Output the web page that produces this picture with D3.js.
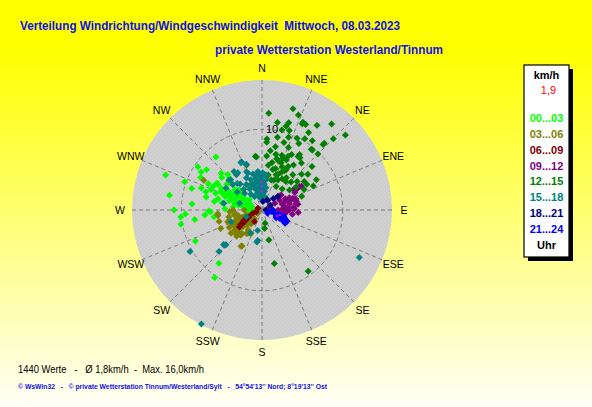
<!DOCTYPE html>
<html>
<head>
<meta charset="utf-8">
<script src="https://cdn.jsdelivr.net/npm/d3@7"></script>
<style>
  html, body { margin: 0; padding: 0; overflow: hidden; }
  svg { display: block; }
</style>
</head>
<body>
<div id="chart"></div>
<script>

// ---- data: [direction in degrees, speed km/h] per time slot ----
var slots = ["00...03", "03...06", "06...09", "09...12", "12...15", "15...18", "18...21", "21...24"];
var slotColors = ["#00ff00", "#808000", "#800000", "#800080", "#008000", "#008080", "#000080", "#0000ff"];

var pts0003 = [[319,8.7],[290,12.7],[290,10.2],[304,9.6],[302,8.9],[306,8.5],[298,8.6],[287,9.1],[279,11.6],[290,8.0],
  [288,7.3],[296,6.7],[301,6.5],[309,6.4],[275,8.7],[283,7.1],[280,6.0],[270,10.9],[267,9.5],[265,10.1],[260,10.2],
  [262,8.4],[269,6.6],[268,6.4],[265,7.1],[262,6.0],[245,9.1],[294,5.6],[290,4.8],[299,4.7],[311,4.8],[307,4.2],
  [299,3.5],[297,2.7],[309,2.0],[284,3.5],[280,5.0],[288,2.1],[263,1.8],[280,1.2],[219,8.5],[215,10.2],[300,6.3],
  [298,5.7],[297,5.0],[293,4.2],[290,3.6],[309,3.3],[304,2.6],[295,1.9],[295,1.5],[270,1.5],[280,2.4],[282,3.0],
  [312,6.8],[316,6.1],[286,4.2],[292,5.2],[302,4.0],[306,5.4],[314,5.6],[300,3.0],[284,2.6],[276,3.6],[290,6.1],
  [296,7.4],[284,5.6],[272,4.6],[304,3.6],[296,4.4],[288,3.0],[278,2.0],[300,2.2],[310,3.8],[292,6.8]];
var pts0306 = [[267,4.0],[270,3.6],[260,3.5],[251,3.2],[241,3.0],[233,2.4],[227,1.8],[222,1.4],[240,3.7],[231,3.6],
  [229,3.1],[215,3.0],[234,4.2],[248,1.7],[270,2.2],[232,0.7],[251,4.5],[255,5.5],[246,5.6],[226,4.4],[211,3.4],
  [263,5.5],[297,8.1],[210,5.2],[224,4.5],[214,3.5],[329,3.6],[265,5.5],[209,5.1],[205,3.2],[237,3.9],[228,4.1],
  [245,2.8],[238,3.4],[250,2.6],[256,3.0],[225,2.6],[218,2.2],[244,4.0],[262,3.3],[236,2.0],[230,2.8],[221,3.8],
  [248,3.6],[258,4.2],[242,4.6],[233,4.8],[220,4.1],[252,2.1],[240,2.2]];
var pts0609 = [[213,1.7],[235,2.9],[238,2.3],[242,1.8],[250,1.2],[254,0.75],[233,3.5],[292,0.55],[240,2.6],[236,3.2]];
var pts0912 = [[60,2.5],[70,3.0],[69,3.4],[69,4.1],[76,4.4],[58,5.5],[59,5.0],[90,2.4],[94,2.8],[90,3.4],[62,1.8],
  [66,1.0],[94,4.5],[90,2.0],[2,3.7],[59,5.7],[79,4.3],[81,4.5],[52,3.0],[92,2.6],[96,3.0],[72,3.7],[86,3.9],
  [64,3.2],[66,3.7],[72,4.4],[74,2.6],[84,3.2],[88,4.0],[98,3.8],[62,4.6],[57,4.7],[78,3.5],[82,2.8]];
var pts1215 = [[4,12.0],[17,13.1],[17,11.3],[16,10.8],[19,10.4],[25,11.8],[27,11.9],[39,13.7],[48,13.9],[43,11.3],
  [31,11.2],[26,9.9],[31,10.3],[4,8.8],[4,8.4],[12,9.2],[18,8.8],[23,8.4],[29,9.4],[40,9.7],[45,9.8],[8,7.4],
  [14,7.1],[20,7.2],[26,7.4],[34,8.3],[36,8.0],[354,6.6],[5,6.7],[12,6.0],[19,6.4],[25,5.9],[31,6.3],[30,5.6],
  [15,5.2],[24,4.8],[37,5.0],[49,8.2],[61,7.7],[65,7.0],[56,6.3],[64,5.8],[51,5.6],[41,5.8],[22,4.0],[71,5.2],
  [25,12.0],[43,11.1],[39,9.7],[48,6.6],[167,1.7],[167,3.8],[167,6.8],[143,9.5],[172,2.3],[22,6.9],[22,6.3],
  [31,5.8],[22,4.7],[17,3.9],[31,3.4],[54,4.2],[56,5.1],[28,7.8],[34,8.0],[40,7.6],[26,6.9],[341,5.9],[353,6.7],
  [20,9.6],[14,10.2],[10,11.0],[33,12.5],[21,12.6],[45,12.5],[36,10.6],[8,5.6],[18,5.4],[28,4.2],[40,4.6],
  [46,5.0],[35,6.8],[12,8.0],[52,7.2],[60,6.4],[10,4.4],[16,6.6],[27,5.2],[33,4.6],[44,3.6]];
var pts1518 = [[351,4.4],[355,3.8],[358,3.1],[2,2.5],[346,2.2],[331,1.9],[342,3.1],[1,4.6],[8,3.8],[11,1.7],
  [340,4.0],[339,4.9],[328,3.7],[314,3.0],[287,2.9],[324,5.4],[324,5.9],[327,5.5],[311,4.8],[312,5.5],[280,4.8],
  [247,2.1],[192,2.6],[188,3.8],[227,6.4],[336,6.4],[341,6.0],[314,5.4],[301,5.2],[240,10.3],[226,7.4],
  [228,6.4],[208,16.0],[116,13.4],[189,4.0],[207,3.2],[337,6.5],[338,5.1],[317,4.5],[249,4.1],[226,6.2],
  [350,3.5],[352,2.8],[5,3.2],[0,2.0],[356,4.2],[345,3.4],[10,2.8],[4,4.1],[348,4.0],[354,4.8],[2,3.4],
  [6,4.4],[358,3.6],[352,2.2],[344,2.6],[355,1.8],[8,2.3],[346,4.6],[338,3.5],[334,4.4],[320,4.2],[318,3.4],
  [306,3.8],[0,3.9],[357,2.6],[349,1.6],[3,1.4],[330,3.0],[325,2.4]];
var pts1821 = [[6,1.05],[30,1.4],[49,2.6],[90,0.5],[28,1.4],[45,2.0],[60,1.2]];
var pts2124 = [[100,1.15],[105,1.6],[108,2.05],[109,2.5],[110,3.0],[116,3.3],[117,2.9],[115,2.4],[115,1.95],
  [120,0.8],[90,1.35],[112,2.7],[118,3.1],[113,2.2],[104,2.2],[111,1.9],[119,2.0],[106,2.8],[114,3.4],[120,3.3]];
var slotPoints = [pts0003, pts0306, pts0609, pts0912, pts1215, pts1518, pts1821, pts2124];

// tiny magenta marks in the centre
var ptsMagenta = [[359,3.5],[359,2.9],[359,2.3],[106,2.3],[112,2.0]];

var compass = ["N","NNE","NE","ENE","E","ESE","SE","SSE","S","SSW","SW","WSW","W","WNW","NW","NNW"];
var speedTicks = [10];
var speedMax = 16.1;

var title1 = "Verteilung Windrichtung/Windgeschwindigkeit  Mittwoch, 08.03.2023";
var title2 = "private Wetterstation Westerland/Tinnum";
var stats = "1440 Werte   -   \u00d8 1,8km/h  -  Max. 16,0km/h";
var footer = "\u00a9 WsWin32   -   \u00a9 private Wetterstation Tinnum/Westerland/Sylt   -   54\u00b054'13'' Nord; 8\u00b019'13'' Ost";
var legendHead = "km/h", legendValue = "1,9", legendFoot = "Uhr";

// ---- layout ----
var W = 592, H = 407;
var cx = 262, cy = 210, R = 130;
var font = "Liberation Sans, Arial, sans-serif";

var svg = d3.select("#chart").append("svg")
  .attr("width", W).attr("height", H);

var defs = svg.append("defs");
var grad = defs.append("linearGradient").attr("id", "bg")
  .attr("x1", 0).attr("y1", 0).attr("x2", 0).attr("y2", 1);
grad.append("stop").attr("offset", "0%").attr("stop-color", "#ffff00");
grad.append("stop").attr("offset", "12%").attr("stop-color", "#ffff00");
grad.append("stop").attr("offset", "100%").attr("stop-color", "#fffff6");

// dotted grey texture of the disc
var pat = defs.append("pattern").attr("id", "dots")
  .attr("width", 4).attr("height", 4).attr("patternUnits", "userSpaceOnUse");
pat.append("rect").attr("width", 4).attr("height", 4).attr("fill", "#cdcdcd");
pat.append("rect").attr("x", 0).attr("y", 0).attr("width", 1).attr("height", 1).attr("fill", "#d9d9d9");
pat.append("rect").attr("x", 2).attr("y", 2).attr("width", 1).attr("height", 1).attr("fill", "#d9d9d9");

svg.append("rect").attr("width", W).attr("height", H).attr("fill", "url(#bg)");

var r = d3.scaleLinear().domain([0, speedMax]).range([0, R]);
var ang = d3.scaleLinear().domain([0, 360]).range([0, 2 * Math.PI]);
function px(d) { return cx + r(d[1]) * Math.sin(ang(d[0])); }
function py(d) { return cy - r(d[1]) * Math.cos(ang(d[0])); }

var g = svg.append("g");

g.append("circle").attr("cx", cx).attr("cy", cy).attr("r", R).attr("fill", "url(#dots)");

// spokes
g.selectAll(".spoke").data(compass).enter().append("line")
  .attr("class", "spoke")
  .attr("x1", cx).attr("y1", cy)
  .attr("x2", function(d, i) { return cx + R * Math.sin(ang(i * 22.5)); })
  .attr("y2", function(d, i) { return cy - R * Math.cos(ang(i * 22.5)); })
  .attr("stroke", "#7a7a7a").attr("stroke-width", 1)
  .style("stroke-dasharray", "4,3");

// speed ring
g.selectAll(".ring").data(speedTicks).enter().append("circle")
  .attr("cx", cx).attr("cy", cy).attr("r", function(d) { return r(d); })
  .attr("fill", "none").attr("stroke", "#7a7a7a").attr("stroke-width", 1)
  .style("stroke-dasharray", "4,3");

g.selectAll(".ringlabel").data(speedTicks).enter().append("text")
  .attr("x", cx + 4).attr("y", function(d) { return cy - r(d) + 4; })
  .style("font-family", font)
  .style("font-size", "11px").attr("fill", "#000")
  .text(function(d) { return d; });

// compass labels
g.selectAll(".dir").data(compass).enter().append("text")
  .attr("x", function(d, i) { return cx + 142 * Math.sin(ang(i * 22.5)); })
  .attr("y", function(d, i) { return cy - 142 * Math.cos(ang(i * 22.5)) + 4; })
  .attr("text-anchor", "middle")
  .style("font-family", font)
  .style("font-size", "10.5px").attr("fill", "#000")
  .text(function(d) { return d; });

// points
var diamond = "M0,-3.5L3.5,0L0,3.5L-3.5,0Z";
slotPoints.forEach(function(pts, k) {
  g.append("g").selectAll("path").data(pts).enter().append("path")
    .attr("d", diamond)
    .attr("transform", function(d) { return "translate(" + px(d) + "," + py(d) + ")"; })
    .attr("fill", slotColors[k]);
});

g.append("g").selectAll("rect").data(ptsMagenta).enter().append("rect")
  .attr("x", function(d) { return px(d) - 1; })
  .attr("y", function(d) { return py(d) - 1; })
  .attr("width", 2).attr("height", 2)
  .attr("fill", "#ff00ff");

// titles
svg.append("text").attr("x", 20).attr("y", 30)
  .attr("textLength", 380).attr("lengthAdjust", "spacingAndGlyphs")
  .style("white-space", "pre")
  .style("font-family", font).style("font-weight", "bold")
  .style("font-size", "12.5px").attr("fill", "#1010e8").text(title1);
svg.append("text").attr("x", 215).attr("y", 54)
  .attr("textLength", 228).attr("lengthAdjust", "spacingAndGlyphs")
  .style("font-family", font).style("font-weight", "bold")
  .style("font-size", "12.5px").attr("fill", "#1010e8").text(title2);

svg.append("text").attr("x", 18).attr("y", 373)
  .attr("textLength", 186).attr("lengthAdjust", "spacingAndGlyphs")
  .style("white-space", "pre")
  .style("font-family", font)
  .style("font-size", "11px").attr("fill", "#000").text(stats);
svg.append("text").attr("x", 18).attr("y", 389)
  .attr("textLength", 309).attr("lengthAdjust", "spacingAndGlyphs")
  .style("white-space", "pre")
  .style("font-family", font).style("font-weight", "bold")
  .style("font-size", "7.5px").attr("fill", "#1010e8").text(footer);

// legend box
var lx = 524, ly = 65, lw = 45, lh = 192;
svg.append("rect").attr("x", lx + 4).attr("y", ly + 4).attr("width", lw).attr("height", lh).attr("fill", "#000");
svg.append("rect").attr("x", lx).attr("y", ly).attr("width", lw).attr("height", lh)
  .attr("fill", "#fff").attr("stroke", "#000").attr("stroke-width", 1.2);

var lcx = lx + lw / 2;
svg.append("text").attr("x", lcx).attr("y", 79).attr("text-anchor", "middle")
  .style("font-family", font).style("font-weight", "bold")
  .style("font-size", "11px").attr("fill", "#000").text(legendHead);
svg.append("text").attr("x", lcx + 2).attr("y", 94).attr("text-anchor", "middle")
  .style("font-family", font)
  .style("font-size", "11px").attr("fill", "#ff0000").text(legendValue);

svg.selectAll(".slot").data(slots).enter().append("text")
  .attr("x", lcx).attr("y", function(d, i) { return 122 + i * 15.85; })
  .attr("text-anchor", "middle")
  .style("font-family", font).style("font-weight", "bold")
  .style("font-size", "11px")
  .attr("fill", function(d, i) { return slotColors[i]; })
  .text(function(d) { return d; });

svg.append("text").attr("x", lcx).attr("y", 249).attr("text-anchor", "middle")
  .style("font-family", font).style("font-weight", "bold")
  .style("font-size", "11px").attr("fill", "#000").text(legendFoot);

</script>
</body>
</html>
